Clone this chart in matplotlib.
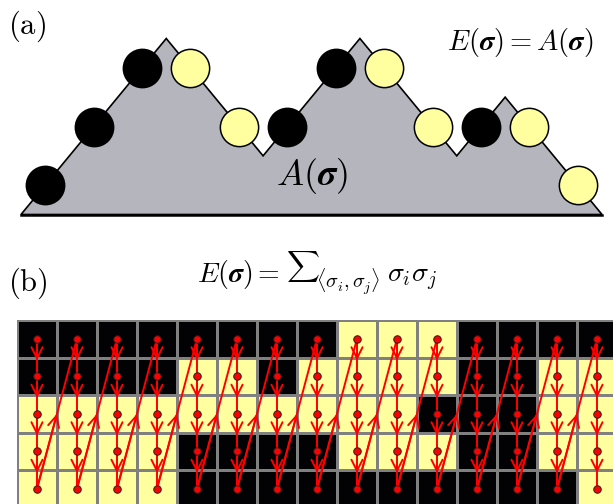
import numpy as np
import matplotlib
matplotlib.use('Agg')
import matplotlib.pyplot as plt
from matplotlib.patches import Polygon, FancyArrowPatch
from matplotlib.colors import ListedColormap

plt.rcParams['mathtext.fontset'] = 'cm'

# spins along the path in panel (a): 1 = black (up step), -1 = yellow (down step)
spins_a = [1, 1, 1, -1, -1, 1, 1, -1, -1, 1, -1, -1]

# spin lattice in panel (b), rows top to bottom: 1 = black, 0 = yellow
grid_b = np.array([
    [1, 1, 1, 1, 1, 1, 1, 1, 0, 0, 0, 1, 1, 1, 1],
    [1, 1, 1, 1, 0, 0, 1, 0, 0, 0, 0, 1, 1, 0, 0],
    [0, 0, 0, 0, 0, 0, 0, 0, 0, 0, 1, 1, 1, 0, 0],
    [0, 0, 0, 0, 1, 1, 1, 1, 0, 0, 0, 1, 1, 0, 0],
    [0, 0, 0, 0, 1, 1, 1, 1, 1, 1, 1, 1, 1, 1, 0],
])

yellow = '#ffffa0'
gray = '#b5b5bd'
W, H = 613, 504

fig = plt.figure(figsize=(W / 100, H / 100), dpi=100)

# ---- panel (a)
ax_a = fig.add_axes([21 / W, (H - 214.5) / H, 581 / W, 176 / H])
ax_a.set_xlim(0, len(spins_a))
ax_a.set_ylim(0, 3)
ax_a.axis('off')

heights = np.concatenate([[0], np.cumsum(spins_a)])
xs = np.arange(len(heights))
poly = Polygon(np.column_stack([xs, heights]), closed=True, facecolor=gray,
               edgecolor='black', lw=1.2, clip_on=False, zorder=1)
ax_a.add_patch(poly)
ax_a.plot([0, len(spins_a)], [0, 0], color='black', lw=1.8, clip_on=False, zorder=2)

mx = xs[:-1] + 0.5
my = (heights[:-1] + heights[1:]) / 2
for x, y, s in zip(mx, my, spins_a):
    fc = 'black' if s == 1 else yellow
    ax_a.scatter([x], [y], s=760, facecolor=fc, edgecolor='black',
                 linewidth=1.1, clip_on=False, zorder=3)

# ---- panel (b)
nr, nc = grid_b.shape
ax_b = fig.add_axes([17 / W, (H - 320 - 187.5) / H, 600 / W, 187.5 / H])
ax_b.pcolormesh(np.arange(nc + 1), np.arange(nr + 1), grid_b,
                cmap=ListedColormap([yellow, '#020205']), vmin=0, vmax=1,
                edgecolors='#808080', linewidth=0.75)
ax_b.set_xlim(0, nc)
ax_b.set_ylim(nr, 0)
ax_b.axis('off')

# path through the lattice: down each column, then up to the top of the next
path = []
for c in range(nc):
    for r in range(nr):
        path.append((c + 0.5, r + 0.5))


def seg_arrow(p0, p1, frac):
    ax_b.plot([p0[0], p1[0]], [p0[1], p1[1]], color='red', lw=1.4, zorder=3)
    tip = (p0[0] + frac * (p1[0] - p0[0]), p0[1] + frac * (p1[1] - p0[1]))
    ar = FancyArrowPatch(p0, tip, arrowstyle='->,head_length=0.8,head_width=0.4',
                         mutation_scale=10, color='red', lw=1.4,
                         shrinkA=0, shrinkB=0, zorder=3)
    ax_b.add_patch(ar)


for p0, p1 in zip(path[:-1], path[1:]):
    frac = 0.58 if p0[0] == p1[0] else 0.5
    seg_arrow(p0, p1, frac)

px, py = zip(*path)
ax_b.plot(px, py, ls='none', marker='o', ms=5.4, mfc='red', mec='#222222',
          mew=0.7, zorder=4)

# ---- labels (positions in pixels from top-left, baseline aligned)
def ftext(x, y, s, size, ha='center'):
    return fig.text(x / W, 1 - y / H, s, fontsize=size, ha=ha, va='baseline')


ftext(8, 34, r'$\mathrm{(a)}$', 22, ha='left')
ftext(8, 291, r'$\mathrm{(b)}$', 22, ha='left')
ftext(520, 50, r'$E(\boldsymbol{\sigma}) = A(\boldsymbol{\sigma})$', 20.5)
ftext(312, 185, r'$A(\boldsymbol{\sigma})$', 26)

# energy formula of panel (b), set piece by piece so the sum stays text-sized
ftext(197, 282, r'$E(\boldsymbol{\sigma}) =$', 20, ha='left')
ftext(286, 274, r'$\sum$', 16.5, ha='left')
ftext(316, 289, r'$\langle\sigma_i,\sigma_j\rangle$', 14.5, ha='left')
ftext(387, 282, r'$\sigma_i\sigma_j$', 20, ha='left')

fig.savefig('out.png', dpi=100)
